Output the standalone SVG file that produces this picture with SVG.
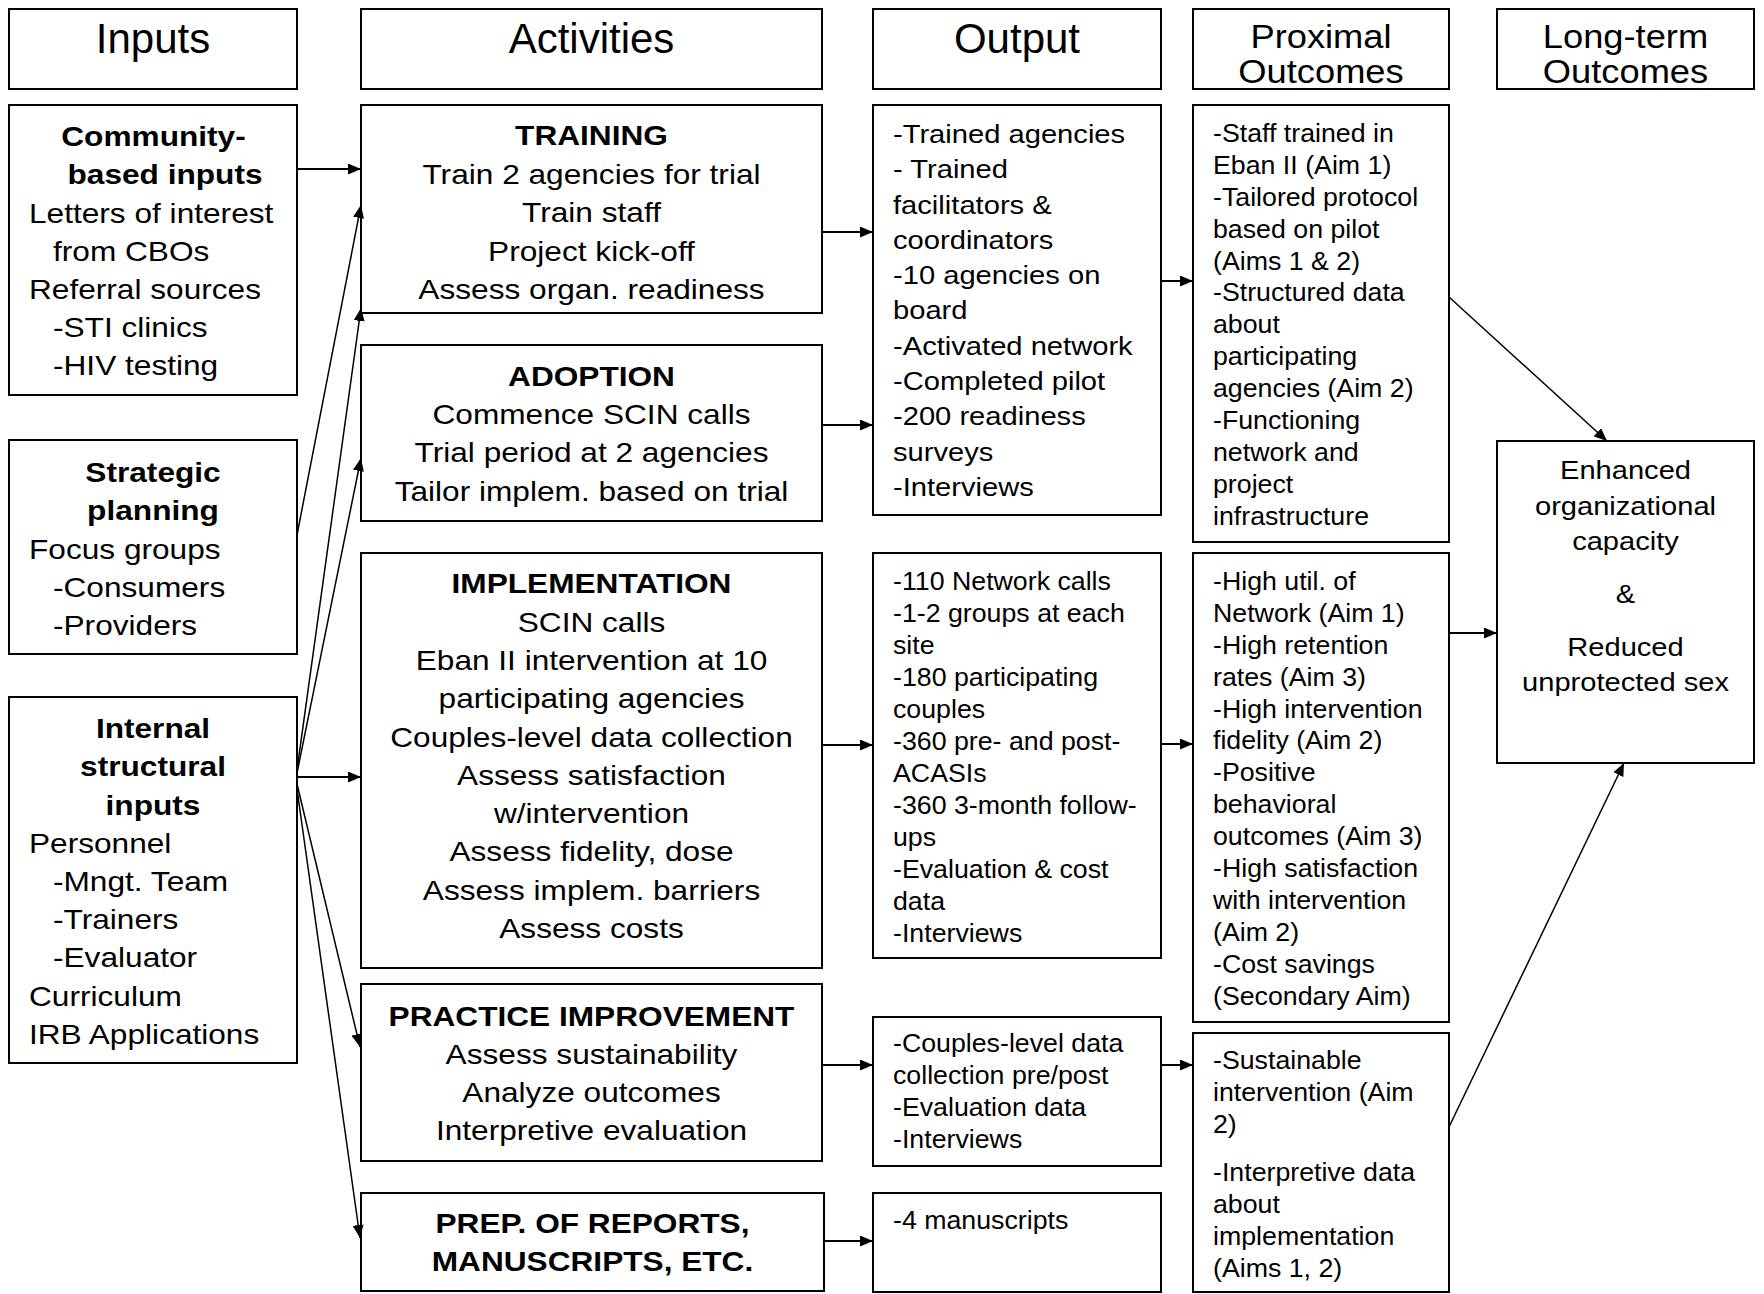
<svg xmlns="http://www.w3.org/2000/svg" width="1764" height="1294" viewBox="0 0 1764 1294">
<style>
.box{fill:#fff;stroke:#000;stroke-width:2}
text{font-family:"Liberation Sans",Arial,sans-serif;fill:#000}
.h{font-size:42px}
.h2{font-size:33px}
.t28{font-size:28px}
.b28{font-size:28px;font-weight:bold}
.t26{font-size:26.5px}
.t27{font-size:26.7px}
.t23{font-size:25px}
.c{text-anchor:middle}
.conn line{stroke:#000;stroke-width:2;marker-end:url(#ah)}
.conn line.d{stroke-width:1.5}
</style>
<defs>
<marker id="ah" markerUnits="userSpaceOnUse" markerWidth="13" markerHeight="11" refX="13" refY="5.5" orient="auto"><path d="M0,0 L13,5.5 L0,11 z" fill="#000"/></marker>
</defs>
<rect width="1764" height="1294" fill="#fff"/>

<g id="hdr-inputs"><rect class="box" x="9" y="9" width="288" height="80"/>
<text class="h c" x="153" y="53">Inputs</text></g>
<g id="hdr-activities"><rect class="box" x="361" y="9" width="461" height="80"/>
<text class="h c" x="591.5" y="53">Activities</text></g>
<g id="hdr-output"><rect class="box" x="873" y="9" width="288" height="80"/>
<text class="h c" x="1017" y="53">Output</text></g>
<g id="hdr-proximal"><rect class="box" x="1193" y="9" width="256" height="80"/>
<g transform="translate(1321 0) scale(1.1 1)"><text class="h2 c"><tspan x="0" y="48">Proximal</tspan><tspan x="0" y="83">Outcomes</tspan></text></g></g>
<g id="hdr-longterm"><rect class="box" x="1497" y="9" width="257" height="80"/>
<g transform="translate(1625.5 0) scale(1.1 1)"><text class="h2 c"><tspan x="0" y="48">Long-term</tspan><tspan x="0" y="83">Outcomes</tspan></text></g></g>

<g id="community"><rect class="box" x="9" y="105" width="288" height="290"/>
<g transform="translate(153.5 0) scale(1.13 1)"><text class="b28 c" x="0" y="146">Community-</text></g>
<g transform="translate(165 0) scale(1.13 1)"><text class="b28 c" x="0" y="184.5">based inputs</text></g>
<g transform="translate(29 0) scale(1.13 1)"><text class="t28"><tspan x="0" y="223">Letters of interest</tspan><tspan x="0" y="299">Referral sources</tspan></text></g>
<g transform="translate(53 0) scale(1.13 1)"><text class="t28"><tspan x="0" y="261">from CBOs</tspan><tspan x="0" y="337">-STI clinics</tspan><tspan x="0" y="375.5">-HIV testing</tspan></text></g>
</g>

<g id="strategic"><rect class="box" x="9" y="440" width="288" height="214"/>
<g transform="translate(153 0) scale(1.13 1)"><text class="b28 c"><tspan x="0" y="482">Strategic</tspan><tspan x="0" y="520">planning</tspan></text></g>
<g transform="translate(29 0) scale(1.13 1)"><text class="t28" x="0" y="559">Focus groups</text></g>
<g transform="translate(53 0) scale(1.13 1)"><text class="t28"><tspan x="0" y="597">-Consumers</tspan><tspan x="0" y="635">-Providers</tspan></text></g>
</g>

<g id="internal"><rect class="box" x="9" y="697" width="288" height="366"/>
<g transform="translate(153 0) scale(1.13 1)"><text class="b28 c"><tspan x="0" y="738">Internal</tspan><tspan x="0" y="776.5">structural</tspan><tspan x="0" y="815">inputs</tspan></text></g>
<g transform="translate(29 0) scale(1.13 1)"><text class="t28"><tspan x="0" y="853">Personnel</tspan><tspan x="0" y="1006">Curriculum</tspan><tspan x="0" y="1044.5">IRB Applications</tspan></text></g>
<g transform="translate(53 0) scale(1.13 1)"><text class="t28"><tspan x="0" y="891">-Mngt. Team</tspan><tspan x="0" y="929">-Trainers</tspan><tspan x="0" y="967.5">-Evaluator</tspan></text></g>
</g>

<g id="training"><rect class="box" x="361" y="105" width="461" height="208"/>
<g transform="translate(591.5 0) scale(1.13 1)"><text class="t28 c"><tspan class="b28" x="0" y="145.5">TRAINING</tspan><tspan x="0" y="184">Train 2 agencies for trial</tspan><tspan x="0" y="222.5">Train staff</tspan><tspan x="0" y="261">Project kick-off</tspan><tspan x="0" y="299">Assess organ. readiness</tspan></text></g>
</g>

<g id="adoption"><rect class="box" x="361" y="345" width="461" height="176"/>
<g transform="translate(591.5 0) scale(1.13 1)"><text class="t28 c"><tspan class="b28" x="0" y="386">ADOPTION</tspan><tspan x="0" y="424">Commence SCIN calls</tspan><tspan x="0" y="462.5">Trial period at 2 agencies</tspan><tspan x="0" y="501">Tailor implem. based on trial</tspan></text></g>
</g>

<g id="implementation"><rect class="box" x="361" y="553" width="461" height="415"/>
<g transform="translate(591.5 0) scale(1.13 1)"><text class="t28 c"><tspan class="b28" x="0" y="593">IMPLEMENTATION</tspan><tspan x="0" y="632">SCIN calls</tspan><tspan x="0" y="670">Eban II intervention at 10</tspan><tspan x="0" y="708.5">participating agencies</tspan><tspan x="0" y="747">Couples-level data collection</tspan><tspan x="0" y="785">Assess satisfaction</tspan><tspan x="0" y="823">w/intervention</tspan><tspan x="0" y="861.5">Assess fidelity, dose</tspan><tspan x="0" y="900">Assess implem. barriers</tspan><tspan x="0" y="938.5">Assess costs</tspan></text></g>
</g>

<g id="practice"><rect class="box" x="361" y="984" width="461" height="177"/>
<g transform="translate(591.5 0) scale(1.13 1)"><text class="t28 c"><tspan class="b28" x="0" y="1026">PRACTICE IMPROVEMENT</tspan><tspan x="0" y="1064">Assess sustainability</tspan><tspan x="0" y="1102">Analyze outcomes</tspan><tspan x="0" y="1140.5">Interpretive evaluation</tspan></text></g>
</g>

<g id="prep"><rect class="box" x="361" y="1193" width="463" height="98"/>
<g transform="translate(592.5 0) scale(1.13 1)"><text class="b28 c"><tspan x="0" y="1233.5">PREP. OF REPORTS,</tspan><tspan x="0" y="1271.5">MANUSCRIPTS, ETC.</tspan></text></g>
</g>

<g id="output1"><rect class="box" x="873" y="105" width="288" height="410"/>
<g transform="translate(893 0) scale(1.1 1)"><text class="t26"><tspan x="0" y="143">-Trained agencies</tspan><tspan x="0" y="178.3">- Trained</tspan><tspan x="0" y="213.6">facilitators &amp;</tspan><tspan x="0" y="248.9">coordinators</tspan><tspan x="0" y="284.2">-10 agencies on</tspan><tspan x="0" y="319.5">board</tspan><tspan x="0" y="354.8">-Activated network</tspan><tspan x="0" y="390.1">-Completed pilot</tspan><tspan x="0" y="425.4">-200 readiness</tspan><tspan x="0" y="460.7">surveys</tspan><tspan x="0" y="496">-Interviews</tspan></text></g>
</g>

<g id="output2"><rect class="box" x="873" y="553" width="288" height="405"/>
<g transform="translate(893 0) scale(1.07 1)"><text class="t23"><tspan x="0" y="590">-110 Network calls</tspan><tspan x="0" y="622">-1-2 groups at each</tspan><tspan x="0" y="654">site</tspan><tspan x="0" y="686">-180 participating</tspan><tspan x="0" y="718">couples</tspan><tspan x="0" y="750">-360 pre- and post-</tspan><tspan x="0" y="782">ACASIs</tspan><tspan x="0" y="814">-360 3-month follow-</tspan><tspan x="0" y="846">ups</tspan><tspan x="0" y="878">-Evaluation &amp; cost</tspan><tspan x="0" y="910">data</tspan><tspan x="0" y="942">-Interviews</tspan></text></g>
</g>

<g id="output3"><rect class="box" x="873" y="1017" width="288" height="149"/>
<g transform="translate(893 0) scale(1.07 1)"><text class="t23"><tspan x="0" y="1052.5">-Couples-level data</tspan><tspan x="0" y="1084.5">collection pre/post</tspan><tspan x="0" y="1116.5">-Evaluation data</tspan><tspan x="0" y="1148.5">-Interviews</tspan></text></g>
</g>

<g id="output4"><rect class="box" x="873" y="1193" width="288" height="99"/>
<g transform="translate(893 0) scale(1.07 1)"><text class="t23" x="0" y="1229">-4 manuscripts</text></g>
</g>

<g id="proximal1"><rect class="box" x="1193" y="105" width="256" height="437"/>
<g transform="translate(1213 0) scale(1.07 1)"><text class="t23"><tspan x="0" y="142">-Staff trained in</tspan><tspan x="0" y="173.9">Eban II (Aim 1)</tspan><tspan x="0" y="205.8">-Tailored protocol</tspan><tspan x="0" y="237.7">based on pilot</tspan><tspan x="0" y="269.6">(Aims 1 &amp; 2)</tspan><tspan x="0" y="301.5">-Structured data</tspan><tspan x="0" y="333.4">about</tspan><tspan x="0" y="365.3">participating</tspan><tspan x="0" y="397.2">agencies (Aim 2)</tspan><tspan x="0" y="429.1">-Functioning</tspan><tspan x="0" y="461">network and</tspan><tspan x="0" y="492.9">project</tspan><tspan x="0" y="524.8">infrastructure</tspan></text></g>
</g>

<g id="proximal2"><rect class="box" x="1193" y="553" width="256" height="469"/>
<g transform="translate(1213 0) scale(1.07 1)"><text class="t23"><tspan x="0" y="590">-High util. of</tspan><tspan x="0" y="621.9">Network (Aim 1)</tspan><tspan x="0" y="653.8">-High retention</tspan><tspan x="0" y="685.7">rates (Aim 3)</tspan><tspan x="0" y="717.6">-High intervention</tspan><tspan x="0" y="749.5">fidelity (Aim 2)</tspan><tspan x="0" y="781.4">-Positive</tspan><tspan x="0" y="813.3">behavioral</tspan><tspan x="0" y="845.2">outcomes (Aim 3)</tspan><tspan x="0" y="877.1">-High satisfaction</tspan><tspan x="0" y="909">with intervention</tspan><tspan x="0" y="940.9">(Aim 2)</tspan><tspan x="0" y="972.8">-Cost savings</tspan><tspan x="0" y="1004.7">(Secondary Aim)</tspan></text></g>
</g>

<g id="proximal3"><rect class="box" x="1193" y="1033" width="256" height="259"/>
<g transform="translate(1213 0) scale(1.07 1)"><text class="t23"><tspan x="0" y="1069">-Sustainable</tspan><tspan x="0" y="1101">intervention (Aim</tspan><tspan x="0" y="1133">2)</tspan><tspan x="0" y="1181">-Interpretive data</tspan><tspan x="0" y="1213">about</tspan><tspan x="0" y="1245">implementation</tspan><tspan x="0" y="1277.5">(Aims 1, 2)</tspan></text></g>
</g>

<g id="longterm"><rect class="box" x="1497" y="441" width="257" height="322"/>
<g transform="translate(1625.5 0) scale(1.09 1)"><text class="t27 c"><tspan x="0" y="479">Enhanced</tspan><tspan x="0" y="515">organizational</tspan><tspan x="0" y="550">capacity</tspan><tspan x="0" y="603">&amp;</tspan><tspan x="0" y="656">Reduced</tspan><tspan x="0" y="691">unprotected sex</tspan></text></g>
</g>

<g id="connectors" class="conn">
<line x1="297" y1="169" x2="361" y2="169"/>
<line class="d" x1="297" y1="535" x2="361" y2="205"/>
<line class="d" x1="297" y1="770" x2="361" y2="308"/>
<line class="d" x1="297" y1="773" x2="361" y2="458"/>
<line x1="297" y1="777" x2="361" y2="777"/>
<line class="d" x1="297" y1="784" x2="360" y2="1047"/>
<line class="d" x1="297" y1="789" x2="360" y2="1238"/>
<line x1="822" y1="232" x2="873" y2="232"/>
<line x1="822" y1="425" x2="873" y2="425"/>
<line x1="822" y1="745" x2="873" y2="745"/>
<line x1="822" y1="1065" x2="873" y2="1065"/>
<line x1="824" y1="1241" x2="873" y2="1241"/>
<line x1="1161" y1="281" x2="1193" y2="281"/>
<line x1="1161" y1="744" x2="1193" y2="744"/>
<line x1="1161" y1="1065" x2="1193" y2="1065"/>
<line class="d" x1="1449" y1="297" x2="1607" y2="441"/>
<line x1="1449" y1="633" x2="1497" y2="633"/>
<line class="d" x1="1449" y1="1127" x2="1624" y2="763"/>
</g>
</svg>
